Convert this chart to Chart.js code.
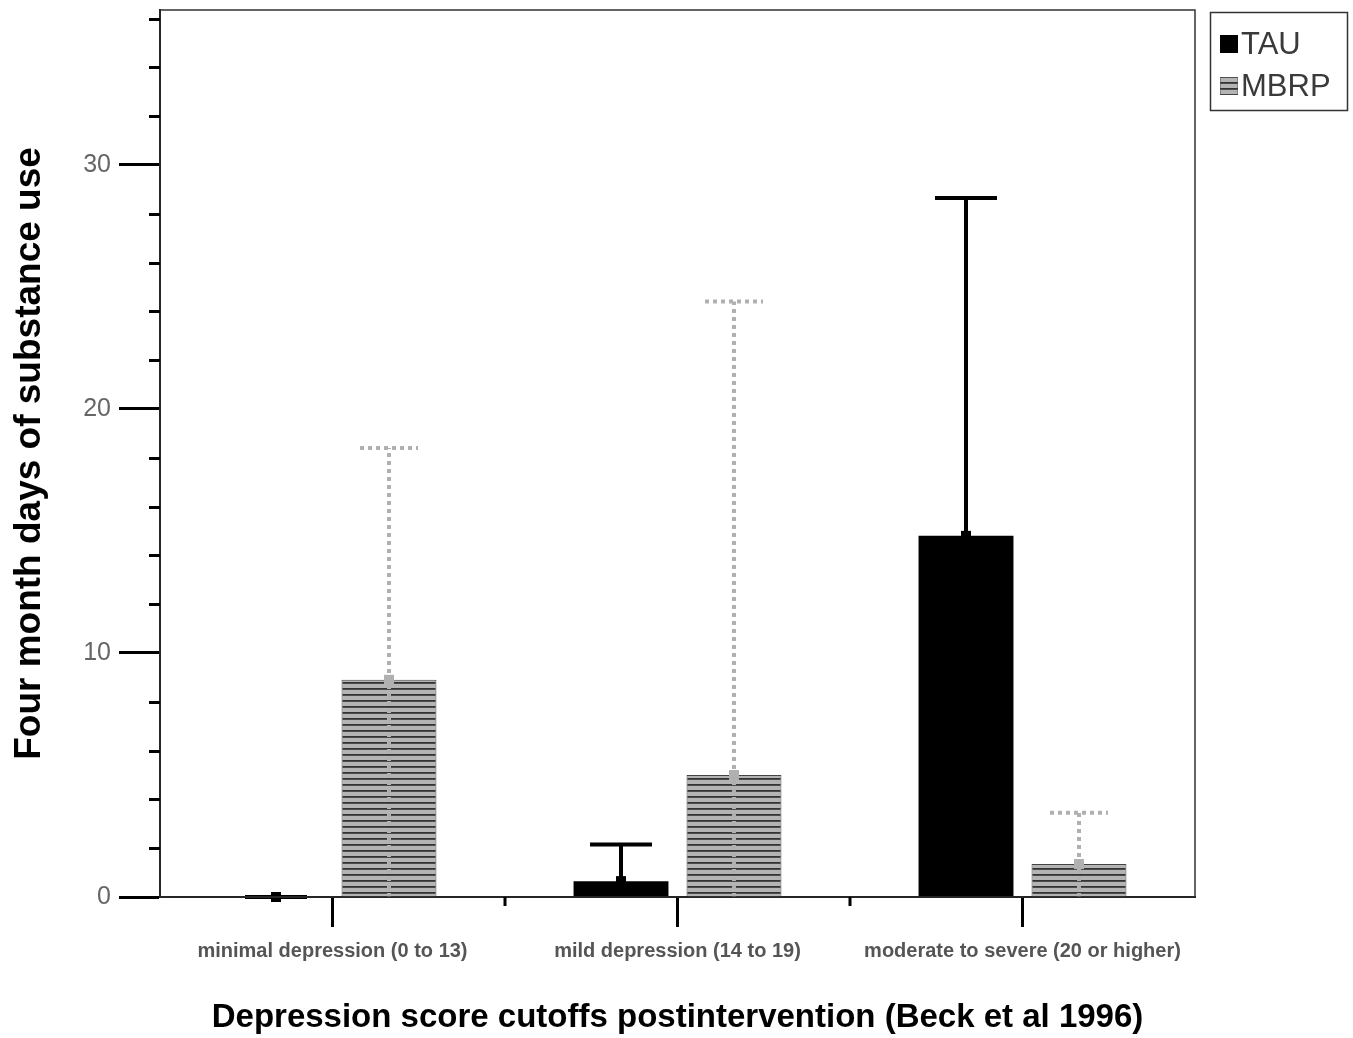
<!DOCTYPE html>
<html>
<head>
<meta charset="utf-8">
<script src="https://cdn.jsdelivr.net/npm/chart.js@4/dist/chart.umd.min.js"></script>
<style>
  body { margin: 0; background: #fff; }
</style>
</head>
<body>
<canvas id="chart" width="1353" height="1038"></canvas>
<script>
// ---------- data

const categories = [
  "minimal depression (0 to 13)",
  "mild depression (14 to 19)",
  "moderate to severe (20 or higher)"
]

const tauMean = [0, 0.65, 14.8]
const tauUpper = [0, 2.15, 28.65]

const mbrpMean = [8.9, 5.0, 1.35]
const mbrpUpper = [18.4, 24.4, 3.45]

const seriesNames = ["TAU", "MBRP"]
const yLabelEvery = 10
const yMinorStep = 2
const yMax = 36.35

const FONT = "'Liberation Sans', Arial, sans-serif"

const canvas = document.getElementById("chart")
const ctx = canvas.getContext("2d")


// ---------- striped fill for MBRP bars

function stripes() {
  const c = document.createElement("canvas")
  c.width = 8
  c.height = 6
  const g = c.getContext("2d")
  g.fillStyle = "#b4b4b4"
  g.fillRect(0, 0, 8, 6)
  g.fillStyle = "#333"
  g.fillRect(0, 4, 8, 1.8)
  return ctx.createPattern(c, "repeat")
}

const stripeFill = stripes()


// ---------- error bars + mean markers

const errorBars = {
  id: "errorBars",
  afterDatasetsDraw(chart) {
    const y = chart.scales.y
    const c = chart.ctx
    chart.data.datasets.forEach((ds, i) => {
      const meta = chart.getDatasetMeta(i)
      meta.data.forEach((bar, j) => {
        const top = y.getPixelForValue(ds.upper[j])
        const base = y.getPixelForValue(0)
        c.save()
        c.strokeStyle = ds.errColor
        c.lineWidth = 4
        c.setLineDash(ds.errDash)
        c.beginPath()
        c.moveTo(bar.x, base)
        c.lineTo(bar.x, top)
        c.moveTo(bar.x - ds.capHalf, top)
        c.lineTo(bar.x + ds.capHalf, top)
        c.stroke()
        c.setLineDash([])
        c.fillStyle = ds.errColor
        c.fillRect(bar.x - 5, bar.y - 5, 10, 10)
        c.restore()
      })
    })
  }
}


// ---------- frame, minor ticks, boundary ticks, legend box

const extras = {
  id: "extras",
  afterDraw(chart) {
    const c = chart.ctx
    const a = chart.chartArea
    const x = chart.scales.x
    const y = chart.scales.y

    c.save()
    c.strokeStyle = "#333"
    c.lineWidth = 1.5
    c.strokeRect(a.left, a.top, a.right - a.left, a.bottom - a.top)

    // minor y ticks
    c.strokeStyle = "#000"
    c.lineWidth = 3
    c.beginPath()
    y.ticks.forEach(t => {
      if (t.value % yLabelEvery !== 0) {
        const py = Math.round(y.getPixelForValue(t.value)) + 0.5
        c.moveTo(a.left - 11, py)
        c.lineTo(a.left, py)
      }
    })
    // short ticks between categories
    for (let i = 0; i < categories.length - 1; i++) {
      const px = (x.getPixelForValue(i) + x.getPixelForValue(i + 1)) / 2
      c.moveTo(px, a.bottom)
      c.lineTo(px, a.bottom + 9)
    }
    c.stroke()

    // legend
    const lx = 1210, ly = 12
    c.lineWidth = 1.5
    c.strokeStyle = "#333"
    c.strokeRect(lx + 0.5, ly + 0.5, 137, 98)
    c.font = "31px " + FONT
    c.textBaseline = "middle"
    chart.data.datasets.forEach((ds, i) => {
      const cy = ly + 32 + i * 42
      c.fillStyle = ds.backgroundColor
      c.fillRect(lx + 10, cy - 9, 18, 18)
      if (i === 1) {
        c.lineWidth = 1
        c.strokeStyle = "#555"
        c.setLineDash([1, 1])
        c.strokeRect(lx + 10.5, cy - 8.5, 17, 17)
        c.setLineDash([])
      }
      c.fillStyle = "#3a3a3a"
      c.fillText(ds.label, lx + 31, cy + 1)
    })
    c.restore()
  }
}


new Chart(ctx, {
  type: "bar",
  data: {
    labels: categories,
    datasets: [
      {
        label: seriesNames[0],
        data: tauMean,
        upper: tauUpper,
        backgroundColor: "#000",
        borderWidth: 0,
        errColor: "#000",
        errDash: [],
        capHalf: 31
      },
      {
        label: seriesNames[1],
        data: mbrpMean,
        upper: mbrpUpper,
        backgroundColor: stripeFill,
        borderColor: "#444",
        borderWidth: { top: 1, left: 1, right: 1, bottom: 0 },
        errColor: "#b0b0b0",
        errDash: [4, 4],
        capHalf: 29
      }
    ]
  },
  options: {
    responsive: false,
    animation: false,
    categoryPercentage: 0.655,
    barPercentage: 0.84,
    layout: {
      padding: { top: 10, right: 158, left: 0, bottom: 0 }
    },
    plugins: {
      legend: { display: false },
      tooltip: { enabled: false }
    },
    scales: {
      x: {
        afterFit(scale) { scale.height = 141 },
        grid: {
          offset: false,
          drawOnChartArea: false,
          tickLength: 30,
          tickWidth: 3,
          tickColor: "#000"
        },
        border: { display: true, color: "#000", width: 2 },
        ticks: {
          color: "#555",
          font: { family: FONT, size: 20, weight: "bold" },
          padding: 12,
          maxRotation: 0,
          autoSkip: false
        },
        title: {
          display: true,
          text: "Depression score cutoffs postintervention (Beck et al 1996)",
          color: "#000",
          font: { family: FONT, size: 33, weight: "bold" },
          padding: { top: 0, bottom: 0 }
        }
      },
      y: {
        min: 0,
        max: yMax,
        afterFit(scale) {
          scale.width = 160
          scale.paddingTop = 0
          scale.paddingBottom = 0
        },
        grid: {
          drawOnChartArea: false,
          tickLength: 41,
          tickWidth: 3,
          tickColor: c => (c.tick && c.tick.value % yLabelEvery === 0) ? "#000" : "rgba(0,0,0,0)"
        },
        border: { display: true, color: "#000", width: 2 },
        ticks: {
          stepSize: yMinorStep,
          includeBounds: false,
          autoSkip: false,
          color: "#666",
          padding: 8,
          font: { family: FONT, size: 25 },
          callback: v => (v % yLabelEvery === 0 ? v : "")
        },
        title: {
          display: true,
          text: "Four month days of substance use",
          color: "#000",
          font: { family: FONT, size: 37, weight: "bold" },
          padding: { top: 8, bottom: 0 }
        }
      }
    }
  },
  plugins: [errorBars, extras]
})
</script>
</body>
</html>
